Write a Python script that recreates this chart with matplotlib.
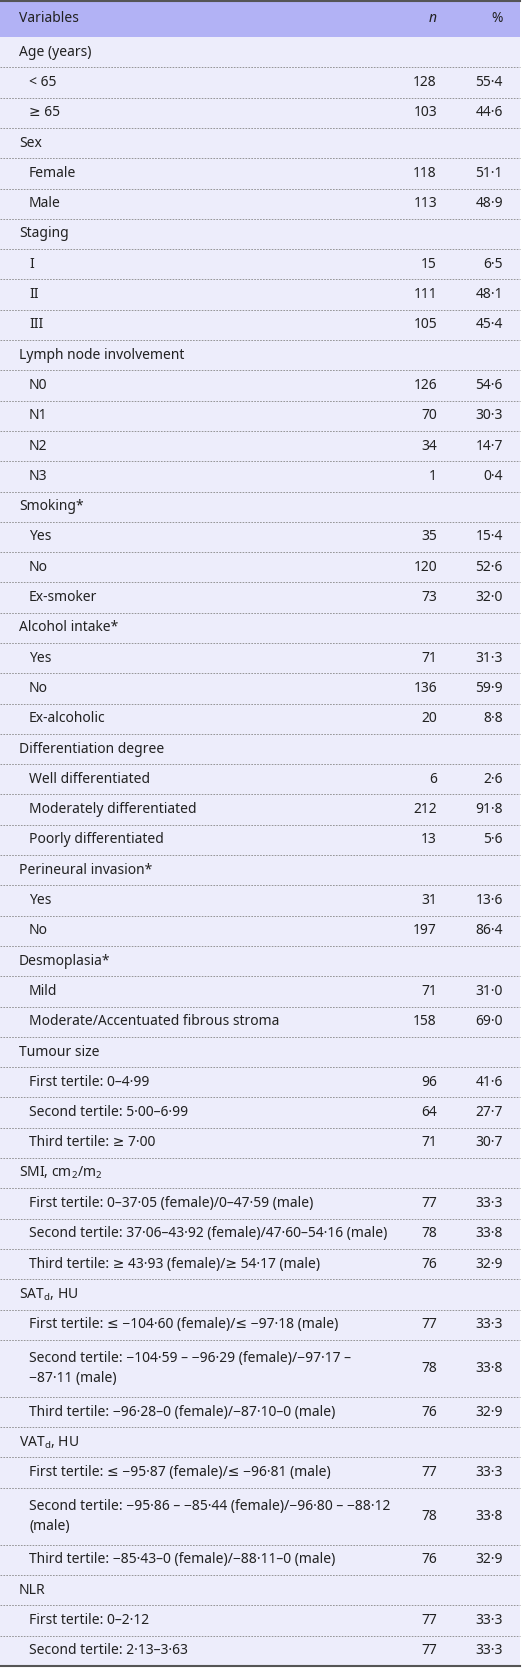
import matplotlib
matplotlib.use('Agg')
import matplotlib.pyplot as plt
from matplotlib.patches import Rectangle

plt.rcParams['font.family'] = ['Noto Sans', 'DejaVu Sans']

# table content: (label, n, %), None marks a group heading
groups = ['Age (years)', 'Sex', 'Staging', 'Lymph node involvement', 'Smoking*',
          'Alcohol intake*', 'Differentiation degree', 'Perineural invasion*',
          'Desmoplasia*', 'Tumour size', r'SMI, cm$_\mathregular{2}$/m$_\mathregular{2}$',
          r'SAT$_\mathregular{d}$, HU', r'VAT$_\mathregular{d}$, HU', 'NLR']
items = [
    ['< 65', '≥ 65'],
    ['Female', 'Male'],
    ['I', 'II', 'III'],
    ['N0', 'N1', 'N2', 'N3'],
    ['Yes', 'No', 'Ex-smoker'],
    ['Yes', 'No', 'Ex-alcoholic'],
    ['Well differentiated', 'Moderately differentiated', 'Poorly differentiated'],
    ['Yes', 'No'],
    ['Mild', 'Moderate/Accentuated fibrous stroma'],
    ['First tertile: 0–4·99', 'Second tertile: 5·00–6·99', 'Third tertile: ≥ 7·00'],
    ['First tertile: 0–37·05 (female)/0–47·59 (male)',
     'Second tertile: 37·06–43·92 (female)/47·60–54·16 (male)',
     'Third tertile: ≥ 43·93 (female)/≥ 54·17 (male)'],
    ['First tertile: ≤ −104·60 (female)/≤ −97·18 (male)',
     'Second tertile: −104·59 – −96·29 (female)/−97·17 –\n−87·11 (male)',
     'Third tertile: −96·28–0 (female)/−87·10–0 (male)'],
    ['First tertile: ≤ −95·87 (female)/≤ −96·81 (male)',
     'Second tertile: −95·86 – −85·44 (female)/−96·80 – −88·12\n(male)',
     'Third tertile: −85·43–0 (female)/−88·11–0 (male)'],
    ['First tertile: 0–2·12', 'Second tertile: 2·13–3·63'],
]
n_vals = [[128, 103], [118, 113], [15, 111, 105], [126, 70, 34, 1], [35, 120, 73],
          [71, 136, 20], [6, 212, 13], [31, 197], [71, 158], [96, 64, 71],
          [77, 78, 76], [77, 78, 76], [77, 78, 76], [77, 77]]
pct_vals = [['55·4', '44·6'], ['51·1', '48·9'], ['6·5', '48·1', '45·4'],
            ['54·6', '30·3', '14·7', '0·4'], ['15·4', '52·6', '32·0'],
            ['31·3', '59·9', '8·8'], ['2·6', '91·8', '5·6'], ['13·6', '86·4'],
            ['31·0', '69·0'], ['41·6', '27·7', '30·7'], ['33·3', '33·8', '32·9'],
            ['33·3', '33·8', '32·9'], ['33·3', '33·8', '32·9'], ['33·3', '33·3']]

W, H = 524, 1668
fig = plt.figure(figsize=(W / 100, H / 100), dpi=100)
ax = fig.add_axes([0, 0, 1, 1])
ax.set_xlim(0, W)
ax.set_ylim(H, 0)
ax.axis('off')

row_h, row_h2, head_h = 30.3, 57, 37
x_left, x_ind, x_n, x_p, x_right = 19, 29, 437, 503, 520
fs = 10

ax.add_patch(Rectangle((0, 0), x_right, head_h, color='#b2b2f5', lw=0))
ax.add_patch(Rectangle((0, head_h), x_right, H - head_h - 3, color='#ededfb', lw=0))
ax.plot([0, x_right], [1, 1], color='#555555', lw=1.5)
ax.text(x_left, head_h / 2, 'Variables', fontsize=fs, va='center', color='#222222')
ax.text(x_n, head_h / 2, 'n', fontsize=fs, va='center', ha='right', style='italic', color='#222222')
ax.text(x_p, head_h / 2, '%', fontsize=fs, va='center', ha='right', color='#222222')

y = head_h
first = True
for g, labs, ns, ps in zip(groups, items, n_vals, pct_vals):
    rows = [(g, '', '', x_left)] + [(l, str(n), p, x_ind) for l, n, p in zip(labs, ns, ps)]
    for lab, n, p, xi in rows:
        h = row_h2 if '\n' in lab else row_h
        if not first:
            ax.plot([0, x_right], [y, y], color='#888888', lw=0.6, ls=(0, (2, 1.5)))
        first = False
        c = y + h / 2
        ax.text(xi, c, lab, fontsize=fs, va='center', color='#222222', linespacing=1.45)
        ax.text(x_n, c, n, fontsize=fs, va='center', ha='right', color='#222222')
        ax.text(x_p, c, p, fontsize=fs, va='center', ha='right', color='#222222')
        y += h

ax.plot([0, x_right], [y, y], color='#555555', lw=1.5)
fig.savefig('out.png', dpi=100, facecolor='white')
